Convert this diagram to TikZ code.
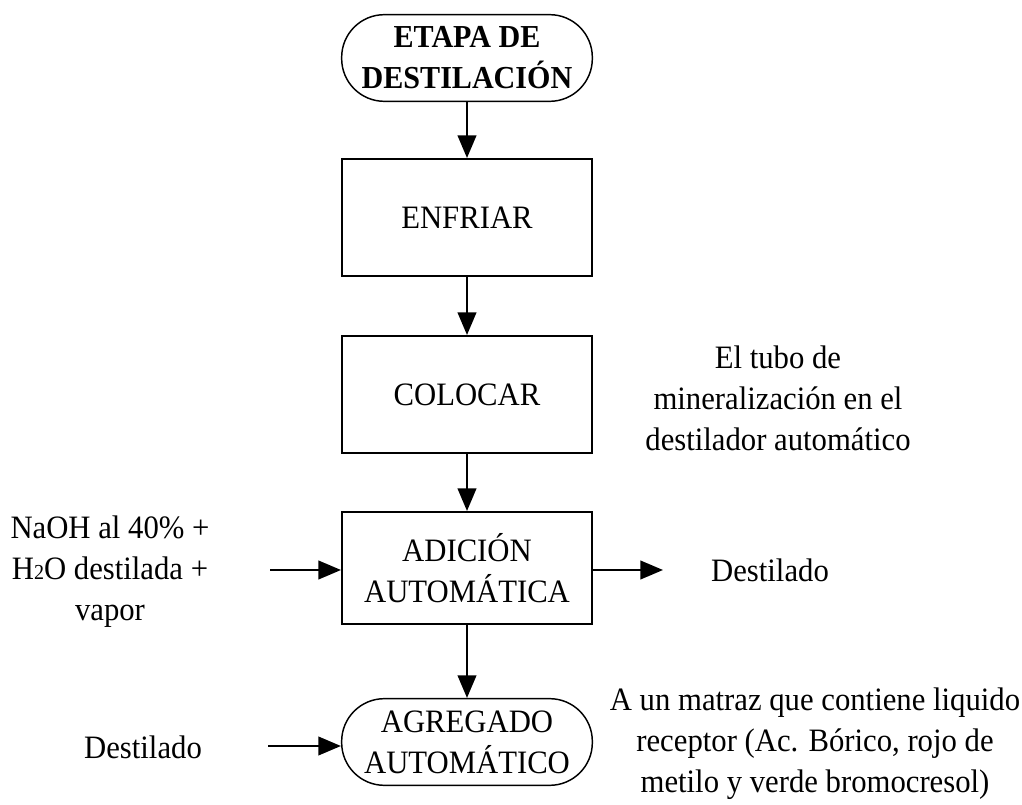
\documentclass[tikz,border=0pt]{standalone}
\usepackage{fontspec}
\setmainfont{Liberation Serif}[FakeStretch=0.94]
\usetikzlibrary{arrows.meta}
\begin{document}
\begin{tikzpicture}[x=0.75pt,y=-0.75pt,
  txt/.style={font=\fontsize{24.5}{30.75}\selectfont, align=center, inner sep=0pt},
  procbox/.style={txt, draw, line width=1.5pt, minimum width=187.5pt},
  term/.style={txt, draw, line width=1.1pt, rounded corners=32pt, minimum width=188pt, minimum height=65pt},
  flow/.style={line width=1.6pt, -{Triangle[length=17pt,width=14pt]}}]
\useasboundingbox (0,0) rectangle (1022,805);

\node[term, font=\bfseries\fontsize{24}{30.75}\selectfont] (top) at (467,58) {ETAPA DE\\DESTILACIÓN};
\node[procbox, minimum height=87.75pt] (enf) at (467,217.5) {ENFRIAR};
\node[procbox, minimum height=87.75pt] (col) at (467,394.5) {COLOCAR};
\node[procbox, minimum height=84pt] (adi) at (467,568) {ADICIÓN\\AUTOMÁTICA};
\node[term, minimum height=65pt] (agr) at (467,742) {AGREGADO\\AUTOMÁTICO};

\node[txt] (tubo) at (778,398) {El tubo de\\mineralización en el\\destilador automático};
\node[txt] (naoh) at (110,572) {NaOH al 40\% +\\H{\fontsize{16}{16}\selectfont 2}O destilada +\\vapor};
\node[txt] (dest1) at (770,570) {Destilado};
\node[txt] (dest2) at (143,747) {Destilado};
\node[txt] (matraz) at (815,744) {A un matraz que contiene liquido\\receptor (Ac. Bórico, rojo de\\metilo y verde bromocresol)};

\coordinate (inA) at (270,570);
\coordinate (outA) at (663,570);
\coordinate (inB) at (268,746);

\draw[flow] (top) -- (enf);
\draw[flow] (enf) -- (col);
\draw[flow] (col) -- (adi);
\draw[flow] (adi) -- (agr);
\draw[flow] (inA) -- (inA -| adi.west);
\draw[flow] (outA -| adi.east) -- (outA);
\draw[flow] (inB) -- (inB -| agr.west);
\end{tikzpicture}
\end{document}
